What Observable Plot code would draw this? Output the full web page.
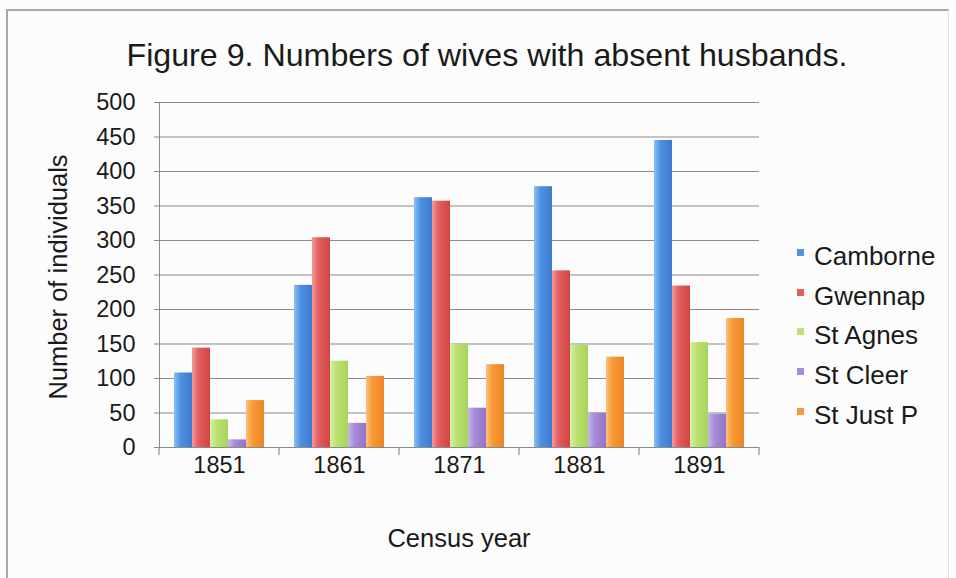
<!DOCTYPE html>
<html>
<head>
<meta charset="utf-8">
<script src="https://cdn.jsdelivr.net/npm/d3@7"></script>
<script src="https://cdn.jsdelivr.net/npm/@observablehq/plot@0.6"></script>
<style>
  html, body { margin: 0; padding: 0; background: #fff; }
  #wrap { position: relative; width: 956px; height: 578px; overflow: hidden; background: #fcfcfc;
          font-family: "Liberation Sans", Arial, Helvetica, sans-serif; color: #1a1a1a; }
  #border { position: absolute; left: 6px; top: 9px; width: 940px; height: 580px;
            border-left: 2px solid #a9a9a9; border-top: 2px solid #a9a9a9; border-right: 1px solid #e2e2e2; }
  #title { position: absolute; left: 9px; top: 36px; width: 956px; text-align: center;
           font-size: 32.2px; line-height: 38px; white-space: nowrap; }
  #chart { position: absolute; left: 0; top: 80px; }
  #chart svg text { fill: #1a1a1a; font-size: 23.5px; }
  #ylabel { position: absolute; left: 58px; top: 277px; transform: translate(-50%, -50%) rotate(-90deg);
            font-size: 25.5px; white-space: nowrap; }
  #xlabel { position: absolute; left: 459px; top: 538px; transform: translate(-50%, -50%);
            font-size: 25.5px; white-space: nowrap; }
  #legend { position: absolute; left: 797px; top: 237px; font-size: 26px; }
  #legend .row { height: 39.6px; display: flex; align-items: center; white-space: nowrap; }
  #legend .sw { width: 7px; height: 7px; margin-right: 10px; margin-top: -8px; }
</style>
</head>
<body>
<svg width="0" height="0" style="position:absolute">
  <defs>
    <linearGradient id="gCamborne" x1="0" x2="1" y1="0" y2="0">
      <stop offset="0" stop-color="#8cc0f2"/><stop offset="0.35" stop-color="#4f93e2"/><stop offset="1" stop-color="#3b79cf"/>
    </linearGradient>
    <linearGradient id="gGwennap" x1="0" x2="1" y1="0" y2="0">
      <stop offset="0" stop-color="#f29a9a"/><stop offset="0.35" stop-color="#e45f5f"/><stop offset="1" stop-color="#d04444"/>
    </linearGradient>
    <linearGradient id="gAgnes" x1="0" x2="1" y1="0" y2="0">
      <stop offset="0" stop-color="#d8f0a8"/><stop offset="0.35" stop-color="#bde274"/><stop offset="1" stop-color="#a6d35a"/>
    </linearGradient>
    <linearGradient id="gCleer" x1="0" x2="1" y1="0" y2="0">
      <stop offset="0" stop-color="#c9b6ea"/><stop offset="0.35" stop-color="#a98bd9"/><stop offset="1" stop-color="#9274c8"/>
    </linearGradient>
    <linearGradient id="gJust" x1="0" x2="1" y1="0" y2="0">
      <stop offset="0" stop-color="#fbc27f"/><stop offset="0.35" stop-color="#f89a38"/><stop offset="1" stop-color="#eb8424"/>
    </linearGradient>
  </defs>
</svg>
<div id="wrap">
  <div id="border"></div>
  <div id="title">Figure 9. Numbers of wives with absent husbands.</div>
  <div id="chart"></div>
  <div id="ylabel">Number of individuals</div>
  <div id="xlabel">Census year</div>
  <div id="legend"></div>
</div>
<script>
// ---- data ----
const years = ["1851", "1861", "1871", "1881", "1891"];
const series = ["Camborne", "Gwennap", "St Agnes", "St Cleer", "St Just P"];
const camborne = [108, 235, 362, 378, 445];
const gwennap  = [144, 304, 357, 256, 234];
const stAgnes  = [40, 125, 150, 148, 152];
const stCleer  = [11, 35, 57, 50, 48];
const stJustP  = [68, 103, 120, 131, 187];
const yTicks = [0, 50, 100, 150, 200, 250, 300, 350, 400, 450, 500];
const seriesColors = ["#4f93e2", "#e45f5f", "#bde274", "#a98bd9", "#f89a38"];
const seriesFills = ["url(#gCamborne)", "url(#gGwennap)", "url(#gAgnes)", "url(#gCleer)", "url(#gJust)"];

const valuesBySeries = [camborne, gwennap, stAgnes, stCleer, stJustP];
const rows = [];
years.forEach((y, i) => series.forEach((s, j) => rows.push({year: y, series: s, value: valuesBySeries[j][i]})));

const chart = Plot.plot({
  width: 956,
  height: 498,
  marginLeft: 159,
  marginRight: 197,
  marginTop: 22,
  marginBottom: 131,
  style: {background: "transparent", fontFamily: "'Liberation Sans', Arial, sans-serif", fontSize: "23.5px", color: "#8a8a8a"},
  fx: {domain: years, padding: 0, label: null, tickSize: 0, tickPadding: 9},
  x: {domain: series, paddingInner: 0, paddingOuter: 0.7, axis: null},
  y: {domain: [0, 500], ticks: yTicks, tickSize: 5, tickPadding: 19, label: null, line: true},
  color: {domain: series, range: seriesFills},
  marks: [
    Plot.ruleY(yTicks, {stroke: "#8a8a8a", strokeWidth: 1.2}),
    Plot.barY(rows, {fx: "year", x: "series", y: "value", fill: "series"})
  ]
});
document.getElementById("chart").appendChild(chart);

// category separator ticks below the x axis, from the fx scale
const fxs = chart.scale("fx");
if (fxs && fxs.domain && fxs.range) {
  const band = d3.scaleBand().domain(fxs.domain).range(fxs.range).paddingInner(0).paddingOuter(0);
  const bounds = fxs.domain.map(d => band(d)).concat([fxs.range[1]]);
  const ys = chart.scale("y");
  const y0 = ys ? d3.scaleLinear().domain(ys.domain).range(ys.range)(0) : 367;
  d3.select(chart).append("g").attr("stroke", "#8a8a8a").attr("stroke-width", 1.2)
    .selectAll("line").data(bounds).join("line")
    .attr("x1", d => d).attr("x2", d => d).attr("y1", y0).attr("y2", y0 + 8);
}

// legend
const legend = d3.select("#legend");
series.forEach((s, j) => {
  const r = legend.append("div").attr("class", "row");
  r.append("div").attr("class", "sw").style("background", seriesColors[j]);
  r.append("span").text(s);
});
</script>
</body>
</html>
